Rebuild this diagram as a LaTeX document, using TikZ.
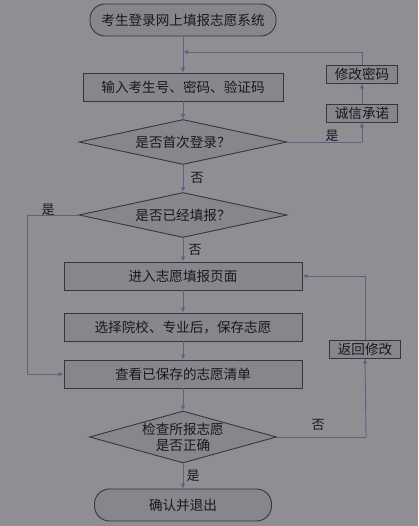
\documentclass[tikz,border=0pt]{standalone}
\usepackage{fontspec}
\newfontfamily\cjk{Noto Sans CJK SC}
\usetikzlibrary{shapes.geometric,arrows.meta}
\definecolor{bgc}{HTML}{8E8E93}
\definecolor{boxc}{HTML}{86878D}
\definecolor{edgec}{HTML}{36363F}
\definecolor{linec}{HTML}{5A6482}
\definecolor{tipc}{HTML}{4A5A8A}
\definecolor{txtc}{HTML}{18181F}
\tikzset{
  base/.style={draw=edgec, line width=0.9pt, fill=boxc, text=txtc, font=\cjk\fontsize{13.6}{16}\selectfont, inner sep=1pt},
  terminal/.style={base, rounded corners=15pt},
  procbox/.style={base},
  smallbox/.style={base, minimum width=71pt, minimum height=18pt},
  decision/.style={base, shape=diamond},
  conn/.style={draw=linec, line width=0.9pt, -{Latex[length=5pt,width=4.5pt,fill=tipc]}},
  plain/.style={draw=linec, line width=0.9pt},
  lbl/.style={text=txtc, font=\cjk\fontsize{13}{15}\selectfont, inner sep=1pt}
}
\begin{document}
\begin{tikzpicture}[x=1pt,y=-1pt]
\fill[bgc] (0,0) rectangle (418,526);
\useasboundingbox (0,0) rectangle (418,526);

\node[terminal, minimum width=186pt, minimum height=32pt] (start) at (183,20) {考生登录网上填报志愿系统};
\node[procbox, minimum width=200pt, minimum height=28pt] (b1) at (183,87) {输入考生号、密码、验证码};
\node[decision, aspect=4.6, minimum width=208pt, minimum height=45pt] (d1) at (183,142) {是否首次登录？};
\node[smallbox] (ch) at (362,113) {诚信承诺};
\node[smallbox] (xg) at (362,74) {修改密码};
\node[decision, aspect=4.6, minimum width=208pt, minimum height=45pt] (d2) at (183,215) {是否已经填报？};
\node[procbox, minimum width=238pt, minimum height=28pt] (b2) at (183,276) {进入志愿填报页面};
\node[procbox, minimum width=238pt, minimum height=28pt] (b3) at (183,327) {选择院校、专业后，保存志愿};
\node[procbox, minimum width=238pt, minimum height=28pt] (b4) at (183,374) {查看已保存的志愿清单};
\node[decision, aspect=3.5, inner sep=0pt, minimum width=187pt, minimum height=49pt, align=center, font=\cjk\fontsize{13.6}{16}\selectfont] (d3) at (183,437) {检查所报志愿\\是否正确};
\node[smallbox] (fh) at (365,349) {返回修改};
\node[terminal, minimum width=177pt, minimum height=32pt] (end) at (183,505) {确认并退出};

\coordinate (j1) at (183,52);
\coordinate (c1) at (362,142);
\coordinate (c2) at (27,215);
\coordinate (c3) at (366,437);

\draw[plain] (start.south) -- (j1);
\draw[conn] (j1) -- (b1.north);
\draw[conn] (b1.south) -- (d1.north);
\draw[plain] (d1.east) -- (c1);
\draw[conn] (c1) -- (ch.south);
\draw[conn] (ch.north) -- (xg.south);
\draw[conn] (xg.north) |- (j1);
\draw[conn] (d1.south) -- (d2.north);
\draw[conn] (d2.south) -- (b2.north);
\draw[plain] (d2.west) -- (c2);
\draw[conn] (c2) |- (b4.west);
\draw[conn] (b2.south) -- (b3.north);
\draw[conn] (b3.south) -- (b4.north);
\draw[conn] (b4.south) -- (d3.north);
\draw[plain] (d3.east) -- (c3);
\draw[conn] (c3) -- (fh.south);
\draw[conn] (fh.north) |- (b2.east);
\draw[conn] (d3.south) -- (end.north);

\node[lbl] (l1) at (332,136) {是};
\node[lbl] (l2) at (197,178) {否};
\node[lbl] (l3) at (48,210) {是};
\node[lbl] (l4) at (195,250) {否};
\node[lbl] (l5) at (318,425) {否};
\node[lbl] (l6) at (193,476) {是};
\end{tikzpicture}
\end{document}
